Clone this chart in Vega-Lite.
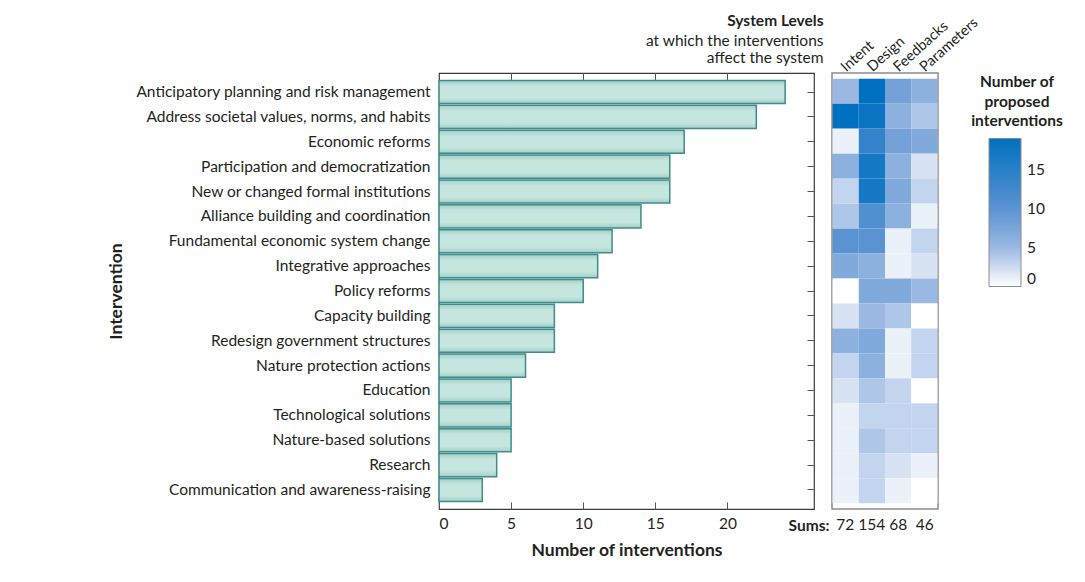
{
  "$schema": "https://vega.github.io/schema/vega-lite/v6.json",
  "autosize": {"type": "pad"},
  "padding": {"left": 106, "top": 13, "right": 5, "bottom": 5},
  "background": "white",
  "config": {
    "font": "Lato",
    "view": {"stroke": null},
    "axis": {"labelFont": "Lato", "titleFont": "Lato", "labelColor": "#231f20", "titleColor": "#231f20", "labelFontSize": 15.5, "titleFontSize": 17.5, "titleFontWeight": "bold", "grid": false, "tickColor": "#555555"},
    "legend": {"labelFont": "Lato", "titleFont": "Lato", "labelColor": "#231f20", "titleColor": "#231f20"}
  },
  "datasets": {
    "bars": [
      {"intervention": "Anticipatory planning and risk management", "count": 24},
      {"intervention": "Address societal values, norms, and habits", "count": 22},
      {"intervention": "Economic reforms", "count": 17},
      {"intervention": "Participation and democratization", "count": 16},
      {"intervention": "New or changed formal institutions", "count": 16},
      {"intervention": "Alliance building and coordination", "count": 14},
      {"intervention": "Fundamental economic system change", "count": 12},
      {"intervention": "Integrative approaches", "count": 11},
      {"intervention": "Policy reforms", "count": 10},
      {"intervention": "Capacity building", "count": 8},
      {"intervention": "Redesign government structures", "count": 8},
      {"intervention": "Nature protection actions", "count": 6},
      {"intervention": "Education", "count": 5},
      {"intervention": "Technological solutions", "count": 5},
      {"intervention": "Nature-based solutions", "count": 5},
      {"intervention": "Research", "count": 4},
      {"intervention": "Communication and awareness-raising", "count": 3}
    ],
    "cells": [
      {"intervention": "Anticipatory planning and risk management", "level": "Intent", "value": 5},
      {"intervention": "Anticipatory planning and risk management", "level": "Design", "value": 19},
      {"intervention": "Anticipatory planning and risk management", "level": "Feedbacks", "value": 8},
      {"intervention": "Anticipatory planning and risk management", "level": "Parameters", "value": 6},
      {"intervention": "Address societal values, norms, and habits", "level": "Intent", "value": 19},
      {"intervention": "Address societal values, norms, and habits", "level": "Design", "value": 18},
      {"intervention": "Address societal values, norms, and habits", "level": "Feedbacks", "value": 6},
      {"intervention": "Address societal values, norms, and habits", "level": "Parameters", "value": 4},
      {"intervention": "Economic reforms", "level": "Intent", "value": 1},
      {"intervention": "Economic reforms", "level": "Design", "value": 14},
      {"intervention": "Economic reforms", "level": "Feedbacks", "value": 8},
      {"intervention": "Economic reforms", "level": "Parameters", "value": 7},
      {"intervention": "Participation and democratization", "level": "Intent", "value": 6},
      {"intervention": "Participation and democratization", "level": "Design", "value": 17},
      {"intervention": "Participation and democratization", "level": "Feedbacks", "value": 6},
      {"intervention": "Participation and democratization", "level": "Parameters", "value": 2},
      {"intervention": "New or changed formal institutions", "level": "Intent", "value": 3},
      {"intervention": "New or changed formal institutions", "level": "Design", "value": 17},
      {"intervention": "New or changed formal institutions", "level": "Feedbacks", "value": 7},
      {"intervention": "New or changed formal institutions", "level": "Parameters", "value": 3},
      {"intervention": "Alliance building and coordination", "level": "Intent", "value": 4},
      {"intervention": "Alliance building and coordination", "level": "Design", "value": 11},
      {"intervention": "Alliance building and coordination", "level": "Feedbacks", "value": 6},
      {"intervention": "Alliance building and coordination", "level": "Parameters", "value": 1},
      {"intervention": "Fundamental economic system change", "level": "Intent", "value": 10},
      {"intervention": "Fundamental economic system change", "level": "Design", "value": 10},
      {"intervention": "Fundamental economic system change", "level": "Feedbacks", "value": 1},
      {"intervention": "Fundamental economic system change", "level": "Parameters", "value": 3},
      {"intervention": "Integrative approaches", "level": "Intent", "value": 7},
      {"intervention": "Integrative approaches", "level": "Design", "value": 6},
      {"intervention": "Integrative approaches", "level": "Feedbacks", "value": 1},
      {"intervention": "Integrative approaches", "level": "Parameters", "value": 2},
      {"intervention": "Policy reforms", "level": "Intent", "value": 0},
      {"intervention": "Policy reforms", "level": "Design", "value": 7},
      {"intervention": "Policy reforms", "level": "Feedbacks", "value": 7},
      {"intervention": "Policy reforms", "level": "Parameters", "value": 5},
      {"intervention": "Capacity building", "level": "Intent", "value": 2},
      {"intervention": "Capacity building", "level": "Design", "value": 5},
      {"intervention": "Capacity building", "level": "Feedbacks", "value": 4},
      {"intervention": "Capacity building", "level": "Parameters", "value": 0},
      {"intervention": "Redesign government structures", "level": "Intent", "value": 6},
      {"intervention": "Redesign government structures", "level": "Design", "value": 7},
      {"intervention": "Redesign government structures", "level": "Feedbacks", "value": 1},
      {"intervention": "Redesign government structures", "level": "Parameters", "value": 3},
      {"intervention": "Nature protection actions", "level": "Intent", "value": 3},
      {"intervention": "Nature protection actions", "level": "Design", "value": 6},
      {"intervention": "Nature protection actions", "level": "Feedbacks", "value": 1},
      {"intervention": "Nature protection actions", "level": "Parameters", "value": 3},
      {"intervention": "Education", "level": "Intent", "value": 2},
      {"intervention": "Education", "level": "Design", "value": 4},
      {"intervention": "Education", "level": "Feedbacks", "value": 3},
      {"intervention": "Education", "level": "Parameters", "value": 0},
      {"intervention": "Technological solutions", "level": "Intent", "value": 1},
      {"intervention": "Technological solutions", "level": "Design", "value": 3},
      {"intervention": "Technological solutions", "level": "Feedbacks", "value": 3},
      {"intervention": "Technological solutions", "level": "Parameters", "value": 3},
      {"intervention": "Nature-based solutions", "level": "Intent", "value": 1},
      {"intervention": "Nature-based solutions", "level": "Design", "value": 4},
      {"intervention": "Nature-based solutions", "level": "Feedbacks", "value": 3},
      {"intervention": "Nature-based solutions", "level": "Parameters", "value": 3},
      {"intervention": "Research", "level": "Intent", "value": 1},
      {"intervention": "Research", "level": "Design", "value": 3},
      {"intervention": "Research", "level": "Feedbacks", "value": 2},
      {"intervention": "Research", "level": "Parameters", "value": 1},
      {"intervention": "Communication and awareness-raising", "level": "Intent", "value": 1},
      {"intervention": "Communication and awareness-raising", "level": "Design", "value": 3},
      {"intervention": "Communication and awareness-raising", "level": "Feedbacks", "value": 1},
      {"intervention": "Communication and awareness-raising", "level": "Parameters", "value": 0}
    ]
  },
  "columns": 2,
  "bounds": "flush",
  "align": "each",
  "spacing": {"row": 5, "column": 18},
  "concat": [
    {
      "width": 375,
      "height": 436,
      "view": {"stroke": "#3a3a3a", "strokeWidth": 1.2},
      "title": {
        "text": "System Levels",
        "subtitle": ["at which the interventions", "affect the system"],
        "anchor": "end",
        "font": "Lato",
        "fontSize": 15.5,
        "fontWeight": "bold",
        "color": "#231f20",
        "subtitleFont": "Lato",
        "subtitleFontSize": 15.5,
        "subtitleColor": "#231f20",
        "subtitlePadding": 4,
        "subtitleLineHeight": 17.5,
        "offset": 6,
        "dx": 9
      },
      "data": {"name": "bars"},
      "layer": [
        {
          "mark": {
            "type": "bar",
            "color": {"gradient": "linear", "x1": 0, "y1": 0, "x2": 0, "y2": 1, "stops": [{"offset": 0, "color": "#a4cec6"}, {"offset": 0.25, "color": "#c4e6df"}, {"offset": 0.75, "color": "#c4e6df"}, {"offset": 1, "color": "#a4cec6"}]},
            "stroke": "#3f8c8c",
            "strokeWidth": 1.5
          },
          "encoding": {
            "y": {"field": "intervention", "type": "nominal", "sort": null, "scale": {"paddingInner": 0.07, "paddingOuter": 0.3}, "axis": {"orient": "left", "title": "Intervention", "tickSize": -7, "labelPadding": 16, "domain": false, "labelLimit": 400, "titleX": -314, "titleY": 218, "titleAlign": "center", "titleBaseline": "bottom", "titleAngle": -90}},
            "x": {"field": "count", "type": "quantitative", "scale": {"domain": [0, 25]}, "axis": {"orient": "bottom", "values": [0, 5, 10, 15, 20], "tickSize": -7, "labelPadding": 14, "domain": false, "title": "Number of interventions", "titlePadding": 10}}
          }
        },
        {
          "mark": {"type": "point", "opacity": 0},
          "encoding": {
            "y": {"field": "intervention", "type": "nominal", "sort": null, "axis": {"orient": "right", "labels": false, "title": null, "tickSize": -7, "domain": false}},
            "x": {"field": "count", "type": "quantitative", "axis": {"orient": "top", "labels": false, "title": null, "values": [5, 10, 15, 20], "tickSize": -7, "domain": false}}
          }
        }
      ],
      "resolve": {"axis": {"x": "independent", "y": "independent"}}
    },
    {
      "width": 106,
      "height": 436,
      "view": {"stroke": "#8c8c8c", "strokeWidth": 1.5},
      "data": {"name": "cells"},
      "mark": {"type": "rect"},
      "encoding": {
        "x": {"field": "level", "type": "nominal", "sort": ["Intent", "Design", "Feedbacks", "Parameters"], "scale": {"paddingInner": 0, "paddingOuter": 0.02}, "axis": {"orient": "top", "title": null, "labelAngle": -42, "labelAlign": "left", "labelBaseline": "middle", "ticks": false, "domain": false, "labelPadding": 4, "labelOffset": -2, "labelFontSize": 14.6}},
        "y": {"field": "intervention", "type": "nominal", "sort": null, "scale": {"paddingInner": 0, "paddingOuter": 0.23}, "axis": null},
        "color": {
          "field": "value",
          "type": "quantitative",
          "scale": {"domain": [0, 5, 10, 19], "range": ["#ffffff", "#9ab8e2", "#5a93d2", "#0070c0"], "interpolate": "rgb"},
          "legend": {
            "title": ["Number of", "proposed", "interventions"],
            "orient": "none",
            "direction": "vertical",
            "legendX": 532,
            "legendY": 2,
            "gradientLength": 148,
            "gradientThickness": 32,
            "gradientStrokeColor": "#8c8c8c",
            "gradientStrokeWidth": 1,
            "titleFontSize": 15.5,
            "titleFontWeight": "bold",
            "titleAlign": "center",
            "titleAnchor": "middle",
            "titleLineHeight": 19.5,
            "titlePadding": 9,
            "labelFontSize": 15.5,
            "labelOffset": 6,
            "values": [0, 5, 10, 15]
          }
        }
      }
    },
    {
      "width": 375,
      "height": 22,
      "data": {"values": []},
      "mark": {"type": "text"}
    },
    {
      "width": 106,
      "height": 22,
      "data": {"name": "cells"},
      "transform": [{"aggregate": [{"op": "sum", "field": "value", "as": "total"}], "groupby": ["level"]}],
      "mark": {"type": "text", "fontSize": 15.5, "color": "#231f20", "font": "Lato"},
      "encoding": {
        "x": {"field": "level", "type": "nominal", "sort": ["Intent", "Design", "Feedbacks", "Parameters"], "scale": {"paddingInner": 0, "paddingOuter": 0.02}, "axis": null},
        "y": {"datum": "Sums:", "type": "nominal", "axis": {"title": null, "ticks": false, "domain": false, "labelFontWeight": "bold", "labelPadding": 3, "labelFontSize": 15.5}},
        "text": {"field": "total", "type": "quantitative"}
      }
    }
  ]
}
